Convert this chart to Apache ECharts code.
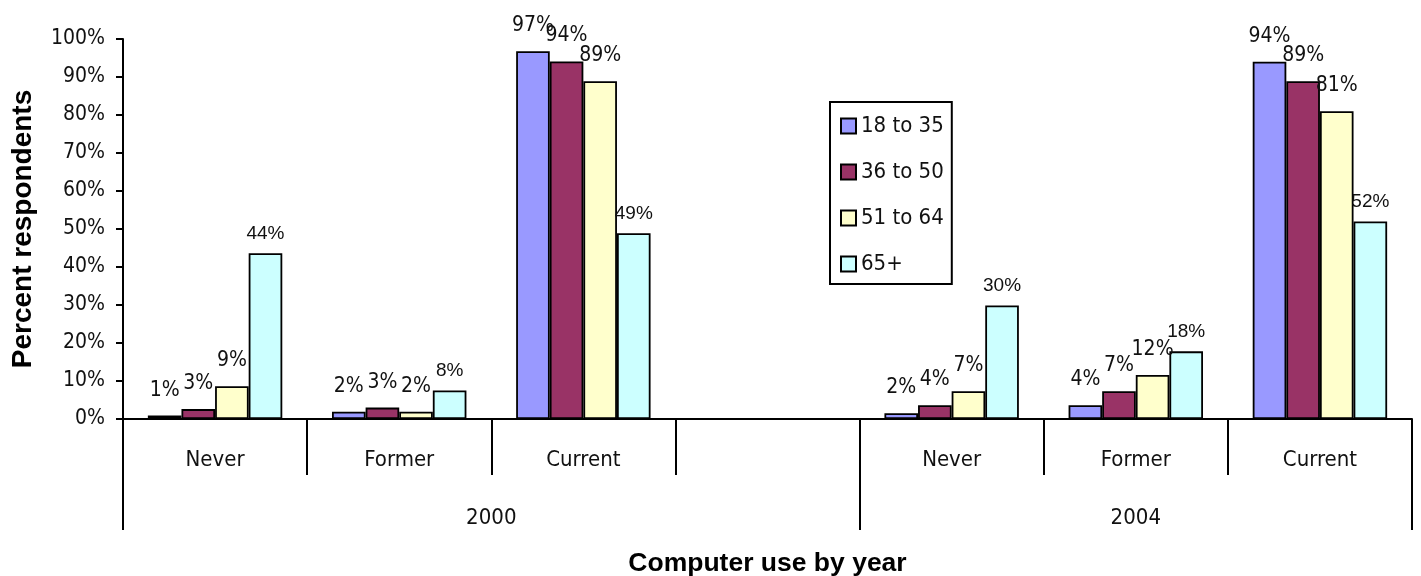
<!DOCTYPE html>
<html>
<head>
<meta charset="utf-8">
<script src="https://cdn.jsdelivr.net/npm/echarts@6/dist/echarts.min.js"></script>
<style>
html,body{margin:0;padding:0;background:#fff;}
#chart{width:1421px;height:576px;}
</style>
</head>
<body>
<div id="chart"></div>
<script>
// ---- data ----
const categories = ['Never', 'Former', 'Current', '', 'Never', 'Former', 'Current'];
const years = ['2000', '2004'];
const yearSpans = [4, 3];              // number of category slots each year covers
const seriesNames = ['18 to 35', '36 to 50', '51 to 64', '65+'];
const age18to35 = [0.9, 1.9, 96.8, null, 1.5, 3.6, 94.0];
const age36to50 = [2.6, 3.0, 94.1, null, 3.6, 7.3, 88.9];
const age51to64 = [8.6, 1.9, 88.9, null, 7.3, 11.6, 81.0];
const age65plus = [43.6, 7.5, 48.9, null, 29.9, 17.8, 52.0];
const yTicks = [0, 100, 10];          // min, max, step (percent)

// ---- derived group positions ----
const groupStarts = [];
const groupCenters = {};
let acc = 0;
yearSpans.forEach((s, i) => { groupStarts.push(acc); groupCenters[acc + s / 2] = years[i]; acc += s; });

const narrow = "'Liberation Sans Narrow', 'Arial Narrow', 'DejaVu Sans Condensed', sans-serif";
const arial = "'Liberation Sans', Arial, sans-serif";
const colors = ['#9999FF', '#993366', '#FFFFCC', '#CCFFFF'];
const txt = '#111';

function mkSeries(name, data, idx) {
  const last = idx === 3;
  return {
    name: name,
    type: 'bar',
    xAxisIndex: 0,
    data: data,
    barGap: '0%',
    barCategoryGap: '27%',
    itemStyle: { color: colors[idx], borderColor: '#000', borderWidth: 1.8 },
    label: {
      show: true,
      position: 'top',
      distance: last ? 10 : 15,
      color: txt,
      fontFamily: last ? arial : narrow,
      fontSize: last ? 19 : 21,
      formatter: p => (p.value == null ? '' : Math.round(p.value) + '%')
    }
  };
}

const chart = echarts.init(document.getElementById('chart'), null, { renderer: 'canvas' });
chart.setOption({
  animation: false,
  backgroundColor: '#fff',
  color: colors,
  grid: { left: 123, right: 9, top: 39, bottom: 157, containLabel: false, outerBoundsMode: 'none' },
  legend: {
    data: seriesNames,
    orient: 'vertical',
    left: 830,
    top: 102,
    icon: 'rect',
    itemWidth: 15,
    itemHeight: 15,
    itemGap: 22,
    itemTextGap: 9,
    padding: [12, 8, 8, 10],
    borderColor: '#000',
    borderWidth: 2,
    textStyle: { fontFamily: narrow, fontSize: 22, color: txt, lineHeight: 24 }
  },
  xAxis: [
    {
      type: 'category',
      data: categories,
      position: 'bottom',
      axisLine: { show: true, lineStyle: { color: '#000', width: 2 } },
      axisTick: { show: true, interval: 0, length: 56, lineStyle: { color: '#000', width: 2 } },
      axisLabel: { show: true, interval: 0, margin: 30, fontFamily: narrow, fontSize: 22, color: txt },
      splitLine: { show: false }
    },
    {
      type: 'category',
      data: categories,
      position: 'bottom',
      axisLine: { show: false },
      axisTick: {
        show: true,
        interval: (i) => groupStarts.indexOf(i) >= 0,
        length: 111,
        lineStyle: { color: '#000', width: 2 }
      },
      axisLabel: { show: false },
      splitLine: { show: false }
    },
    {
      type: 'value',
      position: 'bottom',
      min: 0,
      max: categories.length,
      interval: 0.5,
      axisLine: { show: false },
      axisTick: { show: false },
      splitLine: { show: false },
      axisLabel: {
        margin: 88,
        fontFamily: narrow,
        fontSize: 22,
        color: txt,
        showMinLabel: true,
        showMaxLabel: true,
        formatter: v => groupCenters[v] || ''
      },
      name: 'Computer use by year',
      nameLocation: 'middle',
      nameGap: 131,
      nameTextStyle: { fontFamily: arial, fontWeight: 'bold', fontSize: 26.5, color: '#000' }
    }
  ],
  yAxis: {
    type: 'value',
    min: yTicks[0],
    max: yTicks[1],
    interval: yTicks[2],
    axisLine: { show: true, lineStyle: { color: '#000', width: 2 } },
    axisTick: { show: true, length: 7, lineStyle: { color: '#000', width: 2 } },
    splitLine: { show: false },
    axisLabel: { margin: 18, fontFamily: narrow, fontSize: 21, color: txt, formatter: '{value}%' },
    name: 'Percent respondents',
    nameLocation: 'middle',
    nameGap: 86,
    nameTextStyle: { fontFamily: arial, fontWeight: 'bold', fontSize: 28, color: '#000' }
  },
  series: [
    mkSeries(seriesNames[0], age18to35, 0),
    mkSeries(seriesNames[1], age36to50, 1),
    mkSeries(seriesNames[2], age51to64, 2),
    mkSeries(seriesNames[3], age65plus, 3)
  ]
});
</script>
</body>
</html>
